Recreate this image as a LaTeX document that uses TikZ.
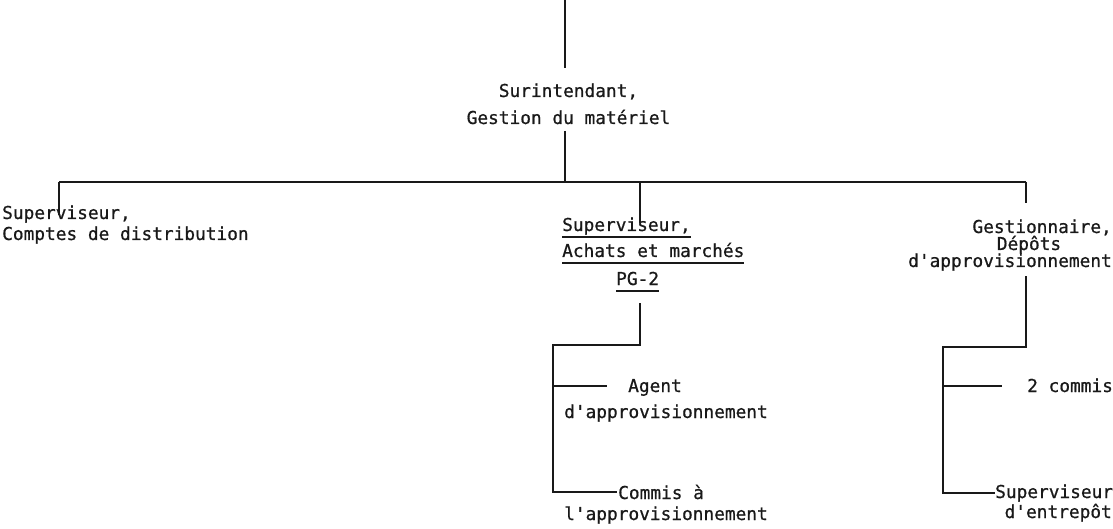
\documentclass[tikz,border=0pt]{standalone}
\usepackage{fontspec}
\newfontfamily\typew[FakeBold=0.7]{DejaVu Sans Mono}
% underline at a fixed depth below the baseline
\newcommand\ulx[1]{\sbox0{#1}\rlap{\usebox0}\rule[-7pt]{\wd0}{1.8pt}}
\definecolor{ink}{gray}{0.1}
\begin{document}
\begin{tikzpicture}[x=1pt,y=-1pt,
  lbl/.style={inner sep=0pt, font=\typew\fontsize{17.8}{20}\selectfont, text=ink},
  wire/.style={line width=1.6pt, draw=ink}]
\useasboundingbox[fill=white] (0,0) rectangle (1113,529);

% labels, one line each
\node[lbl, anchor=base] (sur1) at (568.5,97) {Surintendant,};
\node[lbl, anchor=base] (sur2) at (568.5,124) {Gestion du matériel};

\node[lbl, anchor=base west] (left1) at (2,219) {Superviseur,};
\node[lbl, anchor=base west] (left2) at (2,240) {Comptes de distribution};

\node[lbl, anchor=base west] (mid1) at (562,231) {\ulx{Superviseur,}};
\node[lbl, anchor=base west] (mid2) at (562,257) {\ulx{Achats et marchés}};
\node[lbl, anchor=base west] (mid3) at (616,285) {\ulx{PG-2}};

\node[lbl, anchor=base east] (right1) at (1112,233) {Gestionnaire,};
\node[lbl, anchor=base] (right2) at (1029,250) {Dépôts};
\node[lbl, anchor=base east] (right3) at (1112,267) {d'approvisionnement};

\node[lbl, anchor=base] (agent1) at (655,392) {Agent};
\node[lbl, anchor=base east] (agent2) at (768,418) {d'approvisionnement};
\node[lbl, anchor=base west] (comm1) at (618,499) {Commis à};
\node[lbl, anchor=base east] (comm2) at (768,520) {l'approvisionnement};

\node[lbl, anchor=base west] (clerks) at (1027,392) {2 commis};
\node[lbl, anchor=base west] (sup) at (995,498) {Superviseur};
\node[lbl, anchor=base east] (entr) at (1112,518) {d'entrepôt};

% junction points
\coordinate (t0) at (565,0);
\coordinate (t1) at (565,68);
\coordinate (s0) at (565,131);
\coordinate (bar) at (565,182);
\coordinate (barL) at (59,182);
\coordinate (barR) at (1026,182);
\coordinate (l1) at (59,215);
\coordinate (m0) at (640,182);
\coordinate (m1) at (640,223);
\coordinate (r1) at (1026,203);
\coordinate (m2) at (640,303);
\coordinate (m3) at (640,345);
\coordinate (m4) at (553,345);
\coordinate (a0) at (553,386);
\coordinate (a1) at (607,386);
\coordinate (q2) at (1026,276);
\coordinate (q3) at (1026,347);
\coordinate (q4) at (943,347);
\coordinate (c0) at (943,386);
\coordinate (c1) at (1002,386);

% connectors
\draw[wire] (t0) -- (t1);
\draw[wire] (s0) -- (bar);
\draw[wire] (barL) -- (barR);
\draw[wire] (barL) -- (l1);
\draw[wire] (m0) -- (m1);
\draw[wire] (barR) -- (r1);
\draw[wire] (m2) -- (m3) -- (m4) -- (m4 |- comm1.west) -- ([xshift=-1.5pt]comm1.west);
\draw[wire] (a0) -- (a1);
\draw[wire] (q2) -- (q3) -- (q4) -- (q4 |- sup.west) -- (sup.west);
\draw[wire] (c0) -- (c1);
\end{tikzpicture}
\end{document}
